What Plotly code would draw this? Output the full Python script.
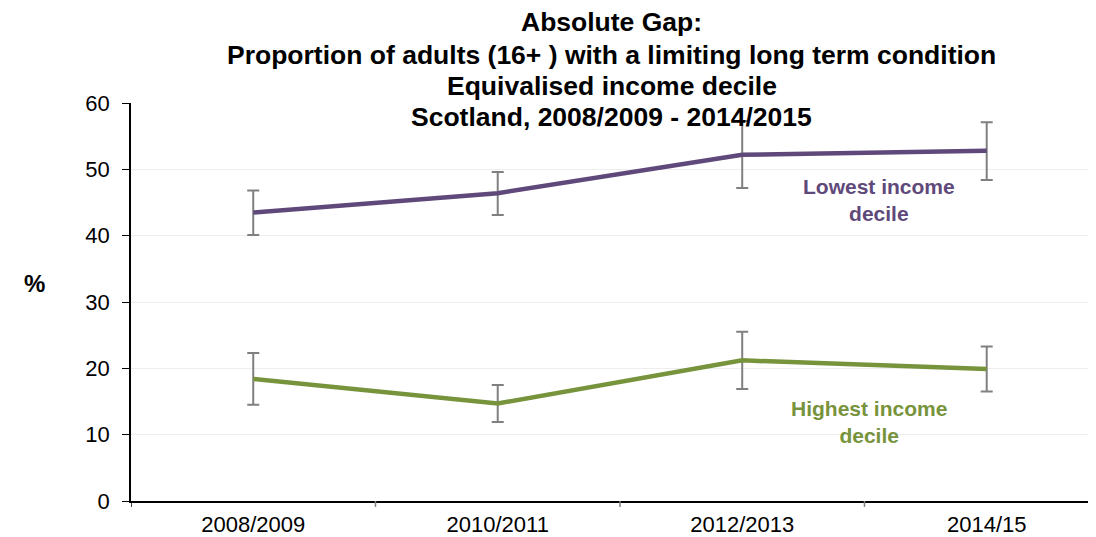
import plotly.graph_objects as go

years = ["2008/2009", "2010/2011", "2012/2013", "2014/15"]
lowest = [43.5, 46.4, 52.2, 52.8]
lowest_hi = [46.8, 49.6, 57.3, 57.1]
lowest_lo = [40.1, 43.1, 47.2, 48.4]
highest = [18.4, 14.7, 21.2, 19.9]
highest_hi = [22.3, 17.5, 25.5, 23.3]
highest_lo = [14.5, 11.9, 16.9, 16.5]

PURPLE = "#5F497A"
GREEN = "#77933C"
GREY = "#808080"
FONT = "Liberation Sans, Arial, sans-serif"

fig = go.Figure()

def add_series(vals, hi, lo, color):
    fig.add_trace(go.Scatter(
        x=list(range(len(years))), y=vals, mode="lines",
        line=dict(color=color, width=4.5),
        error_y=dict(type="data", symmetric=False,
                     array=[h - v for h, v in zip(hi, vals)],
                     arrayminus=[v - l for v, l in zip(vals, lo)],
                     color=GREY, thickness=2, width=6),
        showlegend=False, hoverinfo="skip"))

add_series(lowest, lowest_hi, lowest_lo, PURPLE)
add_series(highest, highest_hi, highest_lo, GREEN)

fig.update_layout(
    width=1088, height=529,
    margin=dict(l=123, r=0, t=95, b=27),
    paper_bgcolor="white", plot_bgcolor="white",
    font=dict(family=FONT, size=22, color="black"),
    xaxis=dict(range=[-0.5, 3.447], tickmode="array",
               tickvals=list(range(len(years))), ticktext=years,
               showline=True, linecolor="black", linewidth=1.5,
               showgrid=False, zeroline=False,
               ticks="", tickfont=dict(size=22), ticklabelstandoff=3),
    yaxis=dict(range=[0, 60], dtick=10, showline=True, linecolor="black",
               linewidth=1.5, ticks="outside", ticklen=7, tickcolor="black",
               gridcolor="#eeeeee", gridwidth=1, zeroline=False,
               tickfont=dict(size=22), ticklabelstandoff=8),
)

# category boundary ticks on x axis
for b in [0.5, 1.5, 2.5]:
    fig.add_shape(type="line", xref="x", yref="paper", x0=b, x1=b,
                  y0=0, y1=-0.015, line=dict(color=GREY, width=1.5))
fig.add_shape(type="line", xref="x", yref="paper", x0=-0.5, x1=-0.5,
              y0=0, y1=-0.015, line=dict(color="black", width=1.5))

titles = [("Absolute Gap:", 1.203),
          ("Proportion of adults (16+ ) with a limiting long term condition", 1.121),
          ("Equivalised income decile", 1.043),
          ("Scotland, 2008/2009 - 2014/2015", 0.965)]
for t, y in titles:
    fig.add_annotation(text="<b>" + t + "</b>", xref="paper", yref="paper",
                       x=0.498, y=y, showarrow=False, xanchor="center",
                       yanchor="middle", font=dict(size=26.5, color="black"))

fig.add_annotation(text="<b>%</b>", xref="paper", yref="paper", x=-0.113,
                   y=0.546, showarrow=False, font=dict(size=24, color="black"))

fig.add_annotation(text="<b>Lowest income<br>decile</b>", xref="x", yref="y",
                   x=2.56, y=45.4, showarrow=False,
                   font=dict(size=21, color=PURPLE))
fig.add_annotation(text="<b>Highest income<br>decile</b>", xref="x", yref="y",
                   x=2.52, y=11.9, showarrow=False,
                   font=dict(size=21, color=GREEN))

fig.write_html("out.html")
